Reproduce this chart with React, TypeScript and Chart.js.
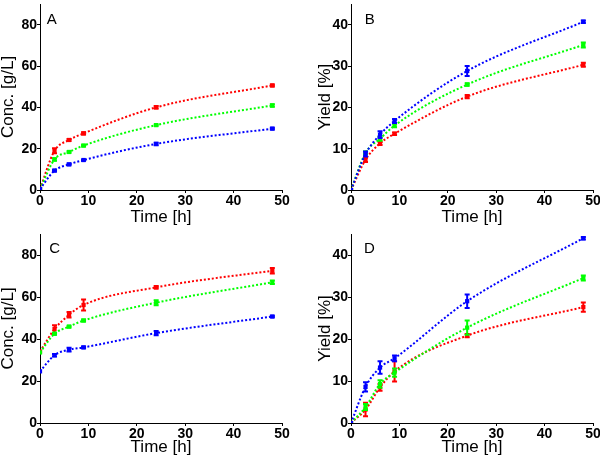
import React, { useEffect, useRef } from "react";
import { Chart, registerables } from "chart.js";

Chart.register(...registerables);

// ---- data ----
const times = [0, 3, 6, 9, 24, 48];

// Panel A: Conc. [g/L]
const aRed = [0.5, 19.0, 24.2, 27.4, 40.0, 50.6];
const aRedErr = [0, 1.2, 0.5, 0.5, 0.6, 0.5];
const aGreen = [0.5, 14.8, 18.4, 21.5, 31.4, 40.9];
const aGreenErr = [0, 0.6, 0.4, 0.4, 0.3, 0.6];
const aBlue = [0.5, 9.4, 12.4, 14.5, 22.3, 29.7];
const aBlueErr = [0, 0.4, 0.4, 0.3, 0.6, 0.4];

// Panel B: Yield [%]
const bRed = [0, 7.3, 11.3, 13.6, 22.6, 30.3];
const bRedErr = [0, 0.5, 0.4, 0.3, 0.4, 0.5];
const bGreen = [0, 9.0, 12.4, 15.6, 25.5, 35.1];
const bGreenErr = [0, 0.3, 0.5, 0.4, 0.3, 0.6];
const bBlue = [0, 8.7, 13.4, 16.7, 28.8, 40.7];
const bBlueErr = [0, 0.6, 0.8, 0.5, 1.2, 0.3];

// Panel C: Conc. [g/L]
const cRed = [34.0, 44.7, 51.5, 56.2, 64.6, 72.5];
const cRedErr = [0, 1.8, 1.3, 2.6, 0.6, 1.3];
const cGreen = [33.6, 42.5, 45.9, 48.8, 57.3, 67.0];
const cGreenErr = [0, 0.5, 0.4, 0.5, 1.2, 0.8];
const cBlue = [24.6, 32.3, 34.9, 36.0, 42.8, 50.7];
const cBlueErr = [0, 0.6, 0.9, 0.4, 1.0, 0.4];

// Panel D: Yield [%]
const dRed = [0, 3.2, 8.5, 12.3, 20.8, 27.6];
const dRedErr = [0, 1.6, 0.8, 2.4, 0.4, 1.1];
const dGreen = [0, 3.8, 9.3, 12.0, 22.7, 34.5];
const dGreenErr = [0, 0.7, 0.9, 1.0, 1.7, 0.6];
const dBlue = [0, 8.6, 13.2, 15.4, 29.0, 44.0];
const dBlueErr = [0, 1.1, 1.5, 0.7, 1.6, 0.3];

const xTitle = "Time [h]";
const concTitle = "Conc. [g/L]";
const yieldTitle = "Yield [%]";

const RED = "#ff0000";
const GREEN = "#00ff00";
const BLUE = "#0000ff";

type Series = { data: number[]; err: number[]; color: string };
type Panel = {
  letter: string;
  yTitle: string;
  yMax: number;
  yStep: number;
  series: Series[];
  area: { L: number; T: number; R: number; B: number };
  yW: number;
  xH: number;
  dx: number;
  dy: number;
};

const panels: Panel[] = [
  {
    letter: "A", yTitle: concTitle, yMax: 90, yStep: 20,
    series: [
      { data: aBlue, err: aBlueErr, color: BLUE },
      { data: aGreen, err: aGreenErr, color: GREEN },
      { data: aRed, err: aRedErr, color: RED },
    ],
    area: { L: 40, T: 0, R: 282, B: 190 }, yW: 40, xH: 36, dx: 6.7, dy: 20,
  },
  {
    letter: "B", yTitle: yieldTitle, yMax: 45, yStep: 10,
    series: [
      { data: bBlue, err: bBlueErr, color: BLUE },
      { data: bGreen, err: bGreenErr, color: GREEN },
      { data: bRed, err: bRedErr, color: RED },
    ],
    area: { L: 351, T: 0, R: 593, B: 190 }, yW: 34, xH: 36, dx: 13.7, dy: 20,
  },
  {
    letter: "C", yTitle: concTitle, yMax: 90, yStep: 20,
    series: [
      { data: cBlue, err: cBlueErr, color: BLUE },
      { data: cGreen, err: cGreenErr, color: GREEN },
      { data: cRed, err: cRedErr, color: RED },
    ],
    area: { L: 40, T: 234, R: 282, B: 423 }, yW: 40, xH: 33, dx: 9.3, dy: 18.7,
  },
  {
    letter: "D", yTitle: yieldTitle, yMax: 45, yStep: 10,
    series: [
      { data: dBlue, err: dBlueErr, color: BLUE },
      { data: dGreen, err: dGreenErr, color: GREEN },
      { data: dRed, err: dRedErr, color: RED },
    ],
    area: { L: 351, T: 234, R: 593, B: 423 }, yW: 34, xH: 33, dx: 13, dy: 18.7,
  },
];

const W = 600;
const H = 460;
const FONT = "'Liberation Sans', Arial, sans-serif";

const errorBarPlugin = {
  id: "errorBars",
  afterDatasetDraw(chart: any, args: any) {
    const ds: any = chart.data.datasets[args.index];
    const errs: number[] = ds.errs || [];
    const yScale = chart.scales.y;
    const ctx = chart.ctx;
    ctx.save();
    ctx.strokeStyle = ds.borderColor;
    ctx.lineWidth = 2;
    args.meta.data.forEach((pt: any, i: number) => {
      const e = errs[i];
      if (!e) return;
      const v = (ds.data[i] as any).y;
      const yt = yScale.getPixelForValue(v + e);
      const yb = yScale.getPixelForValue(v - e);
      const x = pt.x;
      ctx.beginPath();
      ctx.moveTo(x, yt);
      ctx.lineTo(x, yb);
      ctx.moveTo(x - 2.5, yt);
      ctx.lineTo(x + 2.5, yt);
      ctx.moveTo(x - 2.5, yb);
      ctx.lineTo(x + 2.5, yb);
      ctx.stroke();
    });
    ctx.restore();
  },
};

const letterPlugin = {
  id: "panelLetter",
  afterDraw(chart: any, _args: any, opts: any) {
    const { ctx, chartArea } = chart;
    ctx.save();
    ctx.font = `15px ${FONT}`;
    ctx.fillStyle = "#000";
    ctx.textBaseline = "alphabetic";
    ctx.textAlign = "left";
    ctx.fillText(opts.text, chartArea.left + opts.dx, chartArea.top + opts.dy);
    ctx.restore();
  },
};

function PanelChart({ p }: { p: Panel }) {
  const ref = useRef<HTMLCanvasElement>(null);
  useEffect(() => {
    if (!ref.current) return;
    const { L, T, R, B } = p.area;
    const chart = new Chart(ref.current, {
      type: "line",
      data: {
        datasets: p.series.map((s) => ({
          data: times.map((t, i) => ({ x: t, y: s.data[i] })),
          errs: s.err,
          borderColor: s.color,
          backgroundColor: s.color,
          borderWidth: 2,
          borderDash: [2, 2],
          cubicInterpolationMode: "monotone",
          pointStyle: "rect",
          pointRadius: 3,
          pointBorderWidth: 0,
          pointBackgroundColor: s.color,
          fill: false,
        })) as any,
      },
      options: {
        animation: false,
        responsive: false,
        events: [],
        layout: {
          padding: { left: L - p.yW, top: T, right: W - R, bottom: H - B - p.xH },
        },
        plugins: {
          legend: { display: false },
          tooltip: { enabled: false },
          title: { display: false },
          panelLetter: { text: p.letter, dx: p.dx, dy: p.dy },
        } as any,
        scales: {
          x: {
            type: "linear",
            min: 0,
            max: 50,
            ticks: {
              stepSize: 10,
              color: "#000",
              padding: 0,
              font: { family: FONT, size: 14, weight: "bold" },
              maxRotation: 0,
            },
            grid: {
              display: true,
              drawOnChartArea: false,
              drawTicks: true,
              tickLength: 3,
              color: "#000",
            },
            border: { display: true, color: "#000", width: 1 },
            title: {
              display: true,
              text: xTitle,
              color: "#000",
              padding: 0,
              font: { family: FONT, size: 17, lineHeight: 1 },
            },
            afterFit: (scale: any) => {
              scale.height = p.xH;
              scale.paddingLeft = 0;
              scale.paddingRight = 0;
            },
          },
          y: {
            type: "linear",
            min: 0,
            max: p.yMax,
            ticks: {
              stepSize: p.yStep,
              includeBounds: false,
              color: "#000",
              padding: 0,
              font: { family: FONT, size: 14, weight: "bold" },
            },
            grid: {
              display: true,
              drawOnChartArea: false,
              drawTicks: true,
              tickLength: 3,
              color: "#000",
            },
            border: { display: true, color: "#000", width: 1 },
            title: {
              display: true,
              text: p.yTitle,
              color: "#000",
              padding: 0,
              font: { family: FONT, size: 17, lineHeight: 1 },
            },
            afterFit: (scale: any) => {
              scale.width = p.yW;
              scale.paddingTop = 0;
              scale.paddingBottom = 0;
            },
          },
        },
      } as any,
      plugins: [errorBarPlugin, letterPlugin] as any,
    });
    return () => chart.destroy();
  }, [p]);
  return (
    <canvas
      ref={ref}
      width={W}
      height={H}
      style={{ position: "absolute", left: 0, top: 0, width: W, height: H }}
    />
  );
}

export default function App() {
  return (
    <div
      style={{
        position: "fixed",
        left: 0,
        top: 0,
        width: W,
        height: H,
        background: "#fff",
        overflow: "hidden",
      }}
    >
      {panels.map((p) => (
        <PanelChart key={p.letter} p={p} />
      ))}
    </div>
  );
}
